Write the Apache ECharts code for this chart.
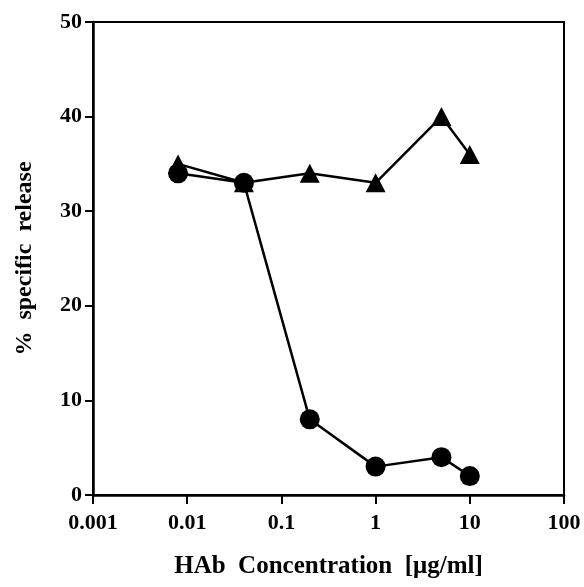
<!DOCTYPE html>
<html>
<head>
<meta charset="utf-8">
<script src="https://cdn.jsdelivr.net/npm/echarts@6/dist/echarts.min.js"></script>
<style>
  html, body { margin: 0; padding: 0; background: #fff; }
  #chart { width: 584px; height: 587px; }
</style>
</head>
<body>
<div id="chart"></div>
<script>
// concentrations (µg/ml) and % specific release
var concCircle = [0.008, 0.04, 0.2, 1, 5, 10];
var releaseCircle = [34, 33, 8, 3, 4, 2];
var concTriangle = [0.008, 0.04, 0.2, 1, 5, 10];
var releaseTriangle = [35, 33, 34, 33, 40, 36];
var yTicks = [0, 10, 20, 30, 40, 50];

function pairs(xs, ys) {
  return xs.map(function (x, i) { return [x, ys[i]]; });
}

var font = '"Liberation Serif", "DejaVu Serif", serif';
var chart = echarts.init(document.getElementById('chart'));

chart.setOption({
  animation: false,
  grid: {
    left: 93, right: 20, top: 22, bottom: 92,
    show: true, borderColor: '#000', borderWidth: 2
  },
  xAxis: {
    type: 'log',
    logBase: 10,
    min: 0.001,
    max: 100,
    name: 'HAb  Concentration  [\u03bcg/ml]',
    nameLocation: 'middle',
    nameGap: 59,
    nameTextStyle: { fontFamily: font, fontWeight: 'bold', fontSize: 25, color: '#000' },
    axisLine: { lineStyle: { color: '#000', width: 2.5 } },
    axisTick: { show: true, length: 9, lineStyle: { color: '#000', width: 2 } },
    minorTick: { show: false },
    splitLine: { show: false },
    axisLabel: {
      margin: 17,
      fontFamily: font, fontWeight: 'bold', fontSize: 22, color: '#000',
      formatter: function (v) { return String(+v.toPrecision(3)); }
    }
  },
  yAxis: {
    type: 'value',
    min: yTicks[0],
    max: yTicks[yTicks.length - 1],
    interval: 10,
    name: '%  specific  release',
    nameLocation: 'middle',
    nameGap: 56,
    nameTextStyle: { fontFamily: font, fontWeight: 'bold', fontSize: 24, color: '#000' },
    axisLine: { show: true, lineStyle: { color: '#000', width: 2.5 } },
    axisTick: { show: true, length: 8, lineStyle: { color: '#000', width: 2 } },
    splitLine: { show: false },
    axisLabel: {
      margin: 11,
      fontFamily: font, fontWeight: 'bold', fontSize: 22, color: '#000'
    }
  },
  series: [
    {
      type: 'line',
      data: pairs(concTriangle, releaseTriangle),
      symbol: 'triangle',
      symbolSize: [20, 19],
      lineStyle: { color: '#000', width: 2.5 },
      itemStyle: { color: '#000' }
    },
    {
      type: 'line',
      data: pairs(concCircle, releaseCircle),
      symbol: 'circle',
      symbolSize: 20,
      lineStyle: { color: '#000', width: 2.5 },
      itemStyle: { color: '#000' }
    }
  ]
});
</script>
</body>
</html>
